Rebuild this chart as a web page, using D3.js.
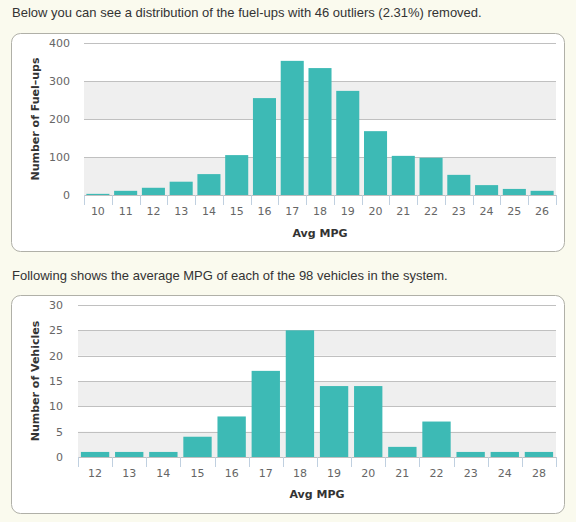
<!DOCTYPE html>
<html lang="en">
<head>
  <meta charset="UTF-8">
  <title>MPG distributions</title>
  <script src="https://cdn.jsdelivr.net/npm/d3@7"></script>
  <style>
    body { margin:0; background:#fafaee; }
    svg { display:block; }
    .note { font: 13px "Liberation Sans", Arial, sans-serif; fill:#333; }
    .tick-label { font: 11px "DejaVu Sans", Verdana, sans-serif; fill:#666; }
    .axis-title { font: bold 11px "DejaVu Sans", Verdana, sans-serif; fill:#333; }
  </style>
</head>
<body>
  <svg id="chart" width="576" height="522"></svg>
  <script>
  // fuel-ups histogram
  const fuelMpg    = ["10","11","12","13","14","15","16","17","18","19","20","21","22","23","24","25","26"];
  const fuelCounts = [3, 11, 19, 35, 55, 105, 255, 353, 334, 274, 168, 103, 98, 53, 26, 16, 11];
  const fuelTicks  = [0, 100, 200, 300, 400];

  // vehicles histogram
  const vehMpg    = ["12","13","14","15","16","17","18","19","20","21","22","23","24","28"];
  const vehCounts = [1, 1, 1, 4, 8, 17, 25, 14, 14, 2, 7, 1, 1, 1];
  const vehTicks  = [0, 5, 10, 15, 20, 25, 30];

  const svg = d3.select("#chart");

  function histogram(opts) {
    const { top, bottom, left, plotTop, plotBottom, labelX, titleX, cats, values, ticks, yTitle } = opts;
    const panelL = 11, panelR = 564, plotR = 556;

    svg.append("rect")
      .attr("x", panelL + 0.5).attr("y", top + 0.5)
      .attr("width", panelR - panelL).attr("height", bottom - top)
      .attr("rx", 9)
      .attr("fill", "#fff").attr("stroke", "#b0b0a8");

    const x = d3.scaleBand().domain(cats).range([left, plotR])
      .paddingInner(0.17).paddingOuter(0.085);
    const y = d3.scaleLinear().domain([0, d3.max(ticks)]).range([plotBottom, plotTop]);
    const step = x.step();

    const g = svg.append("g");

    // alternate bands
    ticks.slice(0, -1).forEach((t, i) => {
      if (i % 2 === 0) {
        g.append("rect")
          .attr("x", left).attr("width", plotR - left)
          .attr("y", y(ticks[i + 1])).attr("height", y(t) - y(ticks[i + 1]))
          .attr("fill", "#efefef");
      }
    });

    // grid lines + y labels
    g.selectAll(".grid").data(ticks).join("line")
      .attr("x1", left).attr("x2", plotR)
      .attr("y1", d => Math.round(y(d)) + 0.5).attr("y2", d => Math.round(y(d)) + 0.5)
      .attr("stroke", "#c0c0c0");

    g.selectAll(".ylab").data(ticks).join("text")
      .attr("class", "tick-label")
      .attr("x", labelX).attr("y", d => y(d) + 4)
      .attr("text-anchor", "end")
      .text(d => d);

    // bars
    g.selectAll(".bar").data(values).join("rect")
      .attr("x", (d, i) => x(cats[i]))
      .attr("width", x.bandwidth())
      .attr("y", d => y(d))
      .attr("height", d => y(0) - y(d))
      .attr("fill", "#3dbab5");

    // category tick marks at boundaries
    const bounds = cats.map(c => x(c) - step * 0.085).concat([plotR]);
    g.selectAll(".xtick").data(bounds).join("line")
      .attr("x1", d => Math.round(d) + 0.5).attr("x2", d => Math.round(d) + 0.5)
      .attr("y1", y(0)).attr("y2", y(0) + 10)
      .attr("stroke", "#c0d0e0");

    g.selectAll(".xlab").data(cats).join("text")
      .attr("class", "tick-label")
      .attr("x", d => x(d) + x.bandwidth() / 2)
      .attr("y", plotBottom + 20)
      .attr("text-anchor", "middle")
      .text(d => d);

    g.append("text")
      .attr("class", "axis-title")
      .attr("x", (left + plotR) / 2).attr("y", opts.xTitleY)
      .attr("text-anchor", "middle")
      .text("Avg MPG");

    g.append("text")
      .attr("class", "axis-title")
      .attr("transform", `translate(${titleX},${(plotTop + plotBottom) / 2}) rotate(-90)`)
      .attr("text-anchor", "middle")
      .text(yTitle);
  }

  svg.append("text").attr("class", "note").attr("x", 12).attr("y", 17)
    .text("Below you can see a distribution of the fuel-ups with 46 outliers (2.31%) removed.");

  histogram({
    top: 33, bottom: 251, left: 84, plotTop: 43, plotBottom: 195,
    labelX: 70, titleX: 39, xTitleY: 237,
    cats: fuelMpg, values: fuelCounts, ticks: fuelTicks, yTitle: "Number of Fuel\u2013ups"
  });

  svg.append("text").attr("class", "note").attr("x", 12).attr("y", 280)
    .text("Following shows the average MPG of each of the 98 vehicles in the system.");

  histogram({
    top: 295, bottom: 513, left: 78, plotTop: 305, plotBottom: 457,
    labelX: 63, titleX: 39, xTitleY: 498,
    cats: vehMpg, values: vehCounts, ticks: vehTicks, yTitle: "Number of Vehicles"
  });
  </script>
</body>
</html>
